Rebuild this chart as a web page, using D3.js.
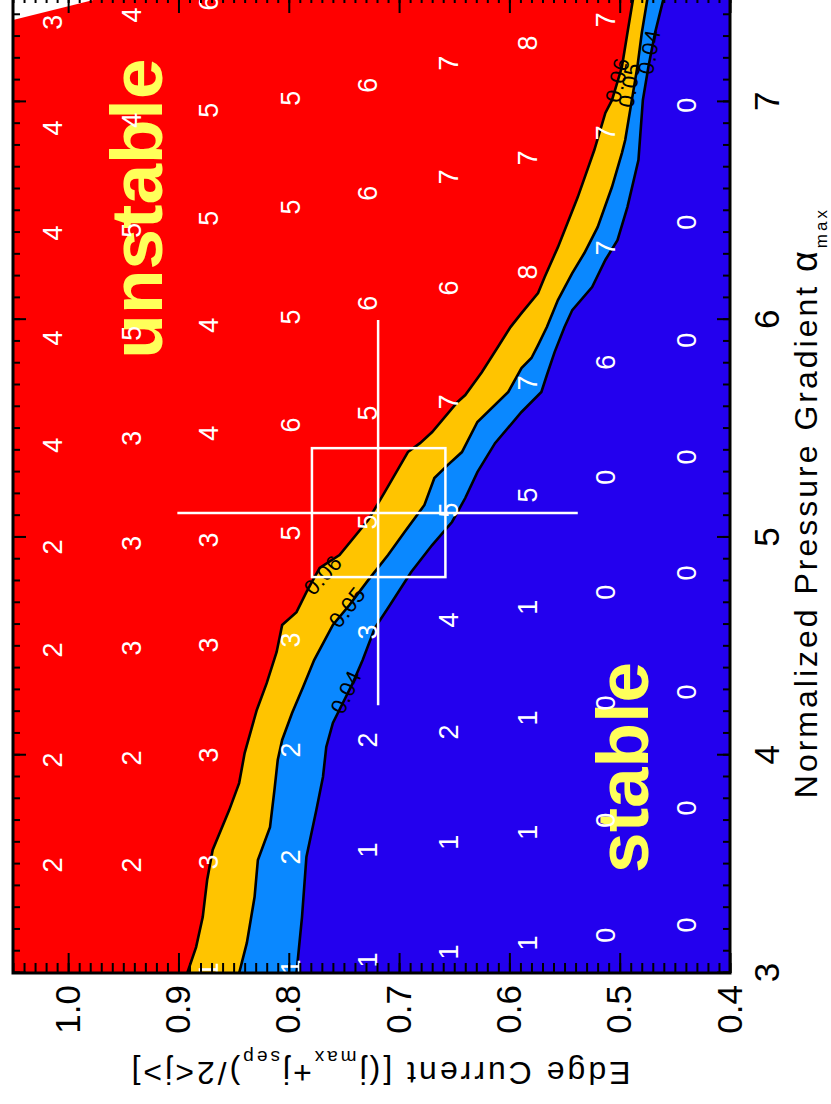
<!DOCTYPE html>
<html><head><meta charset="utf-8">
<script src="https://cdn.jsdelivr.net/npm/d3@7"></script>
<style>html,body{margin:0;padding:0;background:#fff;} svg{display:block;}</style>
</head><body>
<svg id="c" width="831" height="1104"></svg>
<script>
// ---------------- data ----------------
const alphaTicks = [3, 4, 5, 6, 7];
const jTicks = [0.4, 0.5, 0.6, 0.7, 0.8, 0.9, 1.0];

// grid of computed equilibria: edge current of each column, alpha of each point, most unstable mode number
const colJ = [1.014, 0.942, 0.872, 0.798, 0.728, 0.655, 0.583, 0.512, 0.439];
const colAlpha = [
  [3.496, 3.978, 4.483, 4.956, 5.424, 5.916, 6.398, 6.880, 7.366],
  [3.496, 3.987, 4.492, 4.974, 5.456, 5.938, 6.411, 6.916, 7.399],
  [3.014, 3.510, 4.001, 4.506, 4.988, 5.479, 5.975, 6.466, 6.962, 7.454],
  [3.028, 3.533, 4.024, 4.529, 5.020, 5.516, 6.012, 6.517, 7.017],
  [3.060, 3.565, 4.070, 4.566, 5.071, 5.571, 6.076, 6.581, 7.077],
  [3.096, 3.601, 4.107, 4.621, 5.126, 5.622, 6.145, 6.655, 7.178],
  [3.138, 3.647, 4.171, 4.680, 5.195, 5.709, 6.219, 6.742, 7.270],
  [3.174, 3.702, 4.240, 4.749, 5.277, 5.805, 6.329, 6.857, 7.376],
  [3.220, 3.758, 4.290, 4.837, 5.369, 5.906, 6.448, 6.985]
];
const colMode = [
  [2, 2, 2, 2, 4, 4, 4, 4, 3],
  [2, 2, 3, 3, 3, 5, 5, 4, 4],
  [1, 3, 3, 3, 3, 4, 4, 5, 5, 6],
  [1, 2, 2, 3, 5, 6, 5, 5, 5],
  [1, 1, 2, 3, 5, 5, 6, 6, 6],
  [1, 1, 2, 4, 5, 7, 6, 7, 7],
  [1, 1, 1, 1, 5, 7, 8, 7, 8],
  [0, 0, 0, 0, 0, 6, 7, 7, 7],
  [0, 0, 0, 0, 0, 0, 0, 0]
];

// growth-rate contours 0.06 / 0.05 / 0.04
const c06Alpha = [3.000, 3.119, 3.257, 3.427, 3.565, 3.748, 3.872, 4.010, 4.208, 4.331, 4.474, 4.598, 4.657, 4.749, 4.860, 4.919, 5.080, 5.208, 5.392, 5.433, 5.484, 5.622, 5.654, 5.759, 5.870, 5.966, 6.030, 6.122, 6.196, 6.333, 6.563, 6.779, 6.949, 7.008, 7.160, 7.316, 7.500];
const c06J     = [0.892, 0.884, 0.878, 0.874, 0.869, 0.854, 0.845, 0.840, 0.829, 0.820, 0.811, 0.806, 0.793, 0.784, 0.772, 0.754, 0.728, 0.713, 0.692, 0.681, 0.670, 0.647, 0.640, 0.625, 0.611, 0.599, 0.589, 0.574, 0.568, 0.556, 0.538, 0.523, 0.513, 0.507, 0.498, 0.493, 0.487];
const c05Alpha = [3.000, 3.138, 3.349, 3.519, 3.670, 3.840, 3.978, 4.070, 4.194, 4.313, 4.437, 4.598, 4.690, 4.804, 4.919, 5.025, 5.149, 5.273, 5.332, 5.392, 5.530, 5.668, 5.778, 5.824, 5.883, 5.966, 6.090, 6.214, 6.306, 6.425, 6.609, 6.765, 6.825, 7.008, 7.160, 7.316, 7.500];
const c05J     = [0.845, 0.838, 0.831, 0.828, 0.817, 0.813, 0.810, 0.806, 0.797, 0.787, 0.777, 0.760, 0.745, 0.728, 0.710, 0.695, 0.677, 0.668, 0.656, 0.643, 0.629, 0.601, 0.589, 0.580, 0.574, 0.566, 0.556, 0.543, 0.532, 0.520, 0.507, 0.498, 0.495, 0.489, 0.484, 0.480, 0.474];
const c04Alpha = [3.000, 3.257, 3.533, 3.748, 3.900, 4.038, 4.148, 4.240, 4.331, 4.437, 4.584, 4.676, 4.841, 4.965, 5.071, 5.181, 5.300, 5.433, 5.576, 5.668, 5.746, 5.851, 5.966, 6.044, 6.150, 6.274, 6.365, 6.517, 6.733, 7.008, 7.160, 7.316, 7.500];
const c04J     = [0.793, 0.788, 0.784, 0.775, 0.769, 0.766, 0.760, 0.751, 0.742, 0.733, 0.722, 0.710, 0.689, 0.670, 0.652, 0.640, 0.629, 0.613, 0.589, 0.571, 0.566, 0.559, 0.550, 0.543, 0.525, 0.513, 0.502, 0.493, 0.483, 0.479, 0.474, 0.468, 0.459];

// contour labels
const clabText  = ["0.06", "0.05", "0.04", "0.06", "0.05", "0.04"];
const clabLevel = [0, 1, 2, 0, 1, 2];
const clabAlpha = [4.827, 4.680, 4.290, 7.100, 7.077, 7.229];
const clabJ     = [0.769, 0.747, 0.748, 0.502, 0.491, 0.473];

// region without data (top corner)
const noDataAlpha = [7.376, 7.467, 7.500];
const noDataJ     = [1.050, 0.978, 0.953];

// experimental point with uncertainty
const expAlpha = 5.112, expJ = 0.719;
const expAlphaRange = [4.230, 5.998];
const expJRange = [0.538, 0.901];
const boxAlpha = [4.818, 5.410];
const boxJ = [0.658, 0.779];

// ---------------- drawing ----------------
const W = 980, H = 717;
const x = d3.scaleLinear().domain([3, 7.5]).range([0, W]);
const y = d3.scaleLinear().domain([0.4, 1.05]).range([H, 0]);

const COL = { red: "#ff0000", orange: "#ffc400", light: "#0a88ff", dark: "#2300ee", word: "#ffff5a" };
const FONT = "Liberation Sans, Arial, sans-serif";

const svg = d3.select("#c");
const g = svg.append("g").attr("transform", "translate(13,973) rotate(-90)");

g.append("clipPath").attr("id", "pc").append("rect").attr("width", W).attr("height", H);
const plot = g.append("g").attr("clip-path", "url(#pc)");

plot.append("rect").attr("width", W).attr("height", H).attr("fill", COL.dark);

function above(al, jj) {
  const pts = al.map((a, i) => [x(a), y(jj[i])]);
  pts.push([x(7.5), y(1.05)], [x(3), y(1.05)]);
  return "M" + pts.map(p => p.join(",")).join("L") + "Z";
}
const contours = [[c06Alpha, c06J], [c05Alpha, c05J], [c04Alpha, c04J]];
plot.append("path").attr("d", above(c04Alpha, c04J)).attr("fill", COL.light);
plot.append("path").attr("d", above(c05Alpha, c05J)).attr("fill", COL.orange);
plot.append("path").attr("d", above(c06Alpha, c06J)).attr("fill", COL.red);

// no-data corner
{
  const pts = noDataAlpha.map((a, i) => [x(a), y(noDataJ[i])]);
  pts.push([x(7.5), y(1.05)]);
  plot.append("path").attr("d", "M" + pts.map(p => p.join(",")).join("L") + "Z").attr("fill", "#fff");
}

const line = d3.line().x(d => x(d[0])).y(d => y(d[1]));
contours.forEach(([al, jj]) => {
  plot.append("path").attr("d", line(al.map((a, i) => [a, jj[i]])))
    .attr("fill", "none").attr("stroke", "#000").attr("stroke-width", 2.6);
});

// contour labels
clabText.forEach((t, k) => {
  const [al, jj] = contours[clabLevel[k]];
  let best = 0;
  al.forEach((a, i) => { if (Math.abs(a - clabAlpha[k]) < Math.abs(al[best] - clabAlpha[k])) best = i; });
  const i0 = Math.max(0, best - 1), i1 = Math.min(al.length - 1, best + 1);
  const ang = Math.atan2(y(jj[i1]) - y(jj[i0]), x(al[i1]) - x(al[i0])) * 180 / Math.PI;
  plot.append("text")
    .attr("transform", `translate(${x(clabAlpha[k])},${y(clabJ[k])}) rotate(${ang})`)
    .attr("text-anchor", "middle").attr("dominant-baseline", "central")
    .attr("font-family", FONT).attr("font-size", 22).attr("letter-spacing", 0.5)
    .attr("fill", "#000").text(t);
});

// big words
plot.append("text").attr("x", x(6.51)).attr("y", y(0.915))
  .attr("text-anchor", "middle").attr("font-family", FONT)
  .attr("font-weight", "bold").attr("font-size", 73).attr("fill", COL.word).text("unstable");
plot.append("text").attr("x", x(3.944)).attr("y", y(0.474))
  .attr("text-anchor", "middle").attr("font-family", FONT)
  .attr("font-weight", "bold").attr("font-size", 73).attr("fill", COL.word).text("stable");

// mode numbers
colJ.forEach((jv, c) => {
  colAlpha[c].forEach((a, i) => {
    plot.append("text").attr("x", x(a)).attr("y", y(jv))
      .attr("text-anchor", "middle").attr("dominant-baseline", "central")
      .attr("font-family", FONT).attr("font-size", 27)
      .attr("fill", "#fff").text(colMode[c][i]);
  });
});

// experimental cross and box
plot.append("line").attr("x1", x(expAlpha)).attr("x2", x(expAlpha))
  .attr("y1", y(expJRange[0])).attr("y2", y(expJRange[1]))
  .attr("stroke", "#fff").attr("stroke-width", 2.5);
plot.append("line").attr("x1", x(expAlphaRange[0])).attr("x2", x(expAlphaRange[1]))
  .attr("y1", y(expJ)).attr("y2", y(expJ))
  .attr("stroke", "#fff").attr("stroke-width", 2.5);
plot.append("rect").attr("x", x(boxAlpha[0])).attr("y", y(boxJ[1]))
  .attr("width", x(boxAlpha[1]) - x(boxAlpha[0])).attr("height", y(boxJ[0]) - y(boxJ[1]))
  .attr("fill", "none").attr("stroke", "#fff").attr("stroke-width", 2.5);

// ---------------- axes ----------------
function style(sel) {
  sel.select(".domain").remove();
  sel.selectAll(".tick line").attr("stroke", "#000").attr("stroke-width", 2);
  sel.selectAll("text").attr("font-family", FONT).attr("font-size", 35).attr("fill", "#000");
}
const alphaMinor = x.ticks(45);
const jMinor = y.ticks(65);

g.append("g").attr("transform", `translate(0,${H})`)
  .call(d3.axisBottom(x).tickValues(alphaMinor).tickSize(-7).tickSizeOuter(0).tickFormat("")).call(style);
g.append("g").attr("transform", `translate(0,${H})`)
  .call(d3.axisBottom(x).tickValues(alphaTicks).tickSize(-13).tickSizeOuter(0).tickPadding(24).tickFormat(d3.format("d"))).call(style);
g.append("g")
  .call(d3.axisTop(x).tickValues(alphaMinor).tickSize(-7).tickSizeOuter(0).tickFormat("")).call(style);
g.append("g")
  .call(d3.axisTop(x).tickValues(alphaTicks).tickSize(-13).tickSizeOuter(0).tickFormat("")).call(style);

g.append("g")
  .call(d3.axisLeft(y).tickValues(jMinor).tickSize(-10).tickSizeOuter(0).tickFormat("")).call(style);
g.append("g")
  .call(d3.axisLeft(y).tickValues(jTicks).tickSize(-20).tickSizeOuter(0).tickPadding(12).tickFormat(d3.format(".1f"))).call(style);
g.append("g").attr("transform", `translate(${W},0)`)
  .call(d3.axisRight(y).tickValues(jMinor).tickSize(-10).tickSizeOuter(0).tickFormat("")).call(style);
g.append("g").attr("transform", `translate(${W},0)`)
  .call(d3.axisRight(y).tickValues(jTicks).tickSize(-20).tickSizeOuter(0).tickFormat("")).call(style);

g.append("rect").attr("width", W).attr("height", H).attr("fill", "none").attr("stroke", "#000").attr("stroke-width", 3);

// axis titles
const tx = g.append("text").attr("x", W * 0.48).attr("y", H + 87).attr("text-anchor", "middle")
  .attr("font-family", FONT).attr("font-size", 32).attr("letter-spacing", 3).attr("fill", "#000");
tx.append("tspan").text("Normalized Pressure Gradient ");
tx.append("tspan").attr("font-size", 36).text("α");
tx.append("tspan").attr("font-size", 17).attr("baseline-shift", "sub").text("max");

const ty = g.append("text").attr("transform", `translate(-89,${H / 2 + 8}) rotate(-90)`).attr("text-anchor", "middle")
  .attr("font-family", FONT).attr("font-size", 32).attr("letter-spacing", 3).attr("fill", "#000");
ty.append("tspan").text("Edge Current   [(j");
ty.append("tspan").attr("font-size", 19).attr("baseline-shift", "sub").text("max");
ty.append("tspan").text("+j");
ty.append("tspan").attr("font-size", 19).attr("baseline-shift", "sub").text("sep");
ty.append("tspan").text(")/2<j>]");
</script>
</body></html>
